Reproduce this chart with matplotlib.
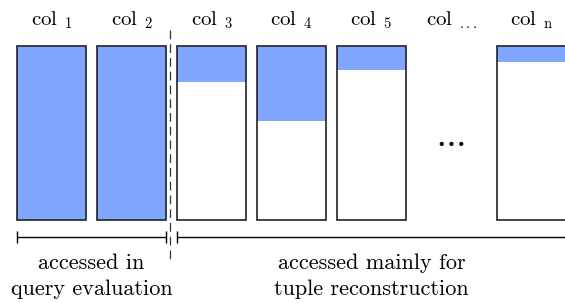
import matplotlib
matplotlib.use("Agg")
import matplotlib.pyplot as plt

# =====================================================================
# DATA
# =====================================================================
COL_LABELS = ["col $_{1}$", "col $_{2}$", "col $_{3}$", "col $_{4}$",
              "col $_{5}$", "col $_{...}$", "col $_{\\mathrm{n}}$"]
COL_POS = [0, 1, 2, 3, 4, 5, 6]
# fraction of each column that is accessed (None = placeholder "...")
ACCESSED = [1.0, 1.0, 0.21, 0.43, 0.14, None, 0.09]
GROUP_TEXT = ["accessed in\nquery evaluation",
              "accessed mainly for\ntuple reconstruction"]

BLUE = "#80A6FF"

plt.rcParams["font.family"] = "serif"
plt.rcParams["font.serif"] = ["cmr10"]
plt.rcParams["mathtext.fontset"] = "cm"
plt.rcParams["axes.unicode_minus"] = False

fig = plt.figure(figsize=(5.65, 3.03), dpi=100)
ax = fig.add_axes([0, 0, 1, 1])
ax.set_xlim(-0.644, 6.42)
ax.set_ylim(-0.477, 1.264)
ax.axis("off")

W = 0.86
for x, lab, frac in zip(COL_POS, COL_LABELS, ACCESSED):
    ax.text(x, 1.15, lab, ha="center", va="center", fontsize=15)
    if frac is None:
        ax.text(x - 0.02, 0.45, "$\\cdots$", ha="center",
                va="center", fontsize=24)
        continue
    ax.bar(x, 1.0, width=W, color="white", edgecolor="none")
    ax.bar(x, frac, bottom=1 - frac, width=W, color=BLUE, edgecolor="none")
    ax.bar(x, 1.0, width=W, fill=False, edgecolor="#222222", linewidth=1.2)

# separator between the two groups
ax.plot([1.48, 1.48], [1.09, -0.23],
        color="#333333", linewidth=0.9, linestyle=(0, (7, 4)))

# brackets
yb = -0.098
ax.plot([-W / 2, 1 + W / 2], [yb, yb], color="black", linewidth=1.0)
ax.plot([-W / 2, 1 + W / 2], [yb, yb], linestyle="none", marker="|",
        markersize=9, color="black", markeredgewidth=1.0)
ax.plot([2 - W / 2, 6.45], [yb, yb], color="black", linewidth=1.0)
ax.plot([2 - W / 2], [yb], linestyle="none", marker="|",
        markersize=9, color="black", markeredgewidth=1.0)

ax.text(0.5, -0.325, GROUP_TEXT[0], ha="center", va="center",
        fontsize=16, linespacing=1.4)
ax.text(4.0, -0.325, GROUP_TEXT[1], ha="center", va="center",
        fontsize=16, linespacing=1.4)

fig.savefig("out.png", dpi=100)
